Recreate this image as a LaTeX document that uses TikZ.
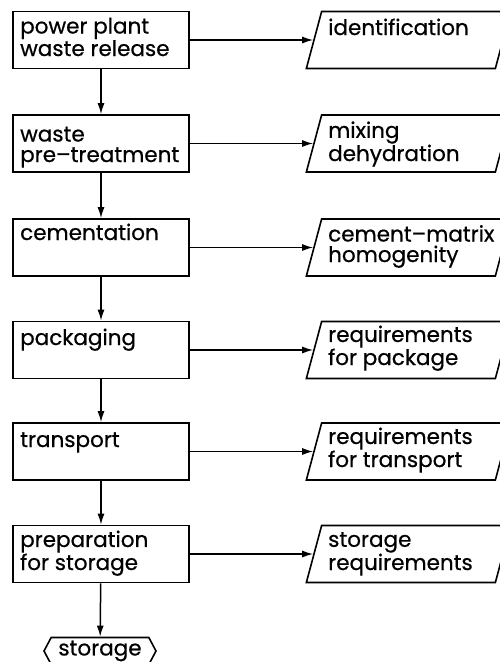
\documentclass[tikz,border=0pt]{standalone}
\usepackage{fontspec}
\setmainfont[FakeBold=0.6]{Poppins}
\usetikzlibrary{arrows.meta,shapes.symbols}
\begin{document}
\begin{tikzpicture}[x=1pt,y=-1pt,
  proc/.style={draw, line width=1.6pt, minimum width=176pt, minimum height=57pt, inner sep=0pt},
  para/.style={draw, line width=1.6pt, rectangle, xslant=0.268, transform shape,
    minimum width=189pt, minimum height=57pt, inner sep=0pt},
  lbl/.style={anchor=base west, inner sep=0pt, align=left, font=\fontsize{21.5}{20.5}\selectfont},
  arr/.style={line width=1.5pt, -{Latex[length=11pt,width=7pt]}},
  endnode/.style={draw, line width=1.6pt, signal, signal to=west and east, signal pointer angle=124,
    minimum width=112pt, minimum height=27pt, inner sep=0pt, font=\fontsize{21.5}{20.5}\selectfont}
]
\useasboundingbox (0,0) rectangle (500,662);
% process boxes
\node[proc] (b1) at (101,40) {};
\node[proc] (b2) at (101,143.5) {};
\node[proc] (b3) at (101,247.5) {};
\node[proc] (b4) at (101,350) {};
\node[proc] (b5) at (101,451.5) {};
\node[proc] (b6) at (101,554) {};
% parallelograms
\node[para] (p1) at (408.5,40) {};
\node[para] (p2) at (408.5,143.5) {};
\node[para] (p3) at (408.5,247.5) {};
\node[para] (p4) at (408.5,350) {};
\node[para] (p5) at (408.5,451.5) {};
\node[para] (p6) at (408.5,554) {};
% storage
\node[endnode] (st) at (100,651) {storage};
% texts in boxes (anchored at baseline of last line)
\node[lbl] (t1) at (20,56) {power plant\\waste release};
\node[lbl] (t2) at (20,162) {waste\\pre--treatment};
\node[lbl] (t3) at (20,240) {cementation};
\node[lbl] (t4) at (20,345) {packaging};
\node[lbl] (t5) at (20,447) {transport};
\node[lbl] (t6) at (20,570) {preparation\\for storage};
% texts in parallelograms
\node[lbl] (u1) at (328,35) {identification};
\node[lbl] (u2) at (328,161) {mixing\\dehydration};
\node[lbl] (u3) at (328,262) {cement--matrix\\homogenity};
\node[lbl] (u4) at (328,365) {requirements\\for package};
\node[lbl] (u5) at (328,467) {requirements\\for transport};
\node[lbl] (u6) at (328,570) {storage\\requirements};
% connectors
\draw[arr] (b1) -- (b2);
\draw[arr] (b2) -- (b3);
\draw[arr] (b3) -- (b4);
\draw[arr] (b4) -- (b5);
\draw[arr] (b5) -- (b6);
\draw[arr] (b6) -- (st);
\draw[arr] (b1.east) -- (p1.west);
\draw[arr] (b2.east) -- (p2.west);
\draw[arr] (b3.east) -- (p3.west);
\draw[arr] (b4.east) -- (p4.west);
\draw[arr] (b5.east) -- (p5.west);
\draw[arr] (b6.east) -- (p6.west);
\end{tikzpicture}
\end{document}
